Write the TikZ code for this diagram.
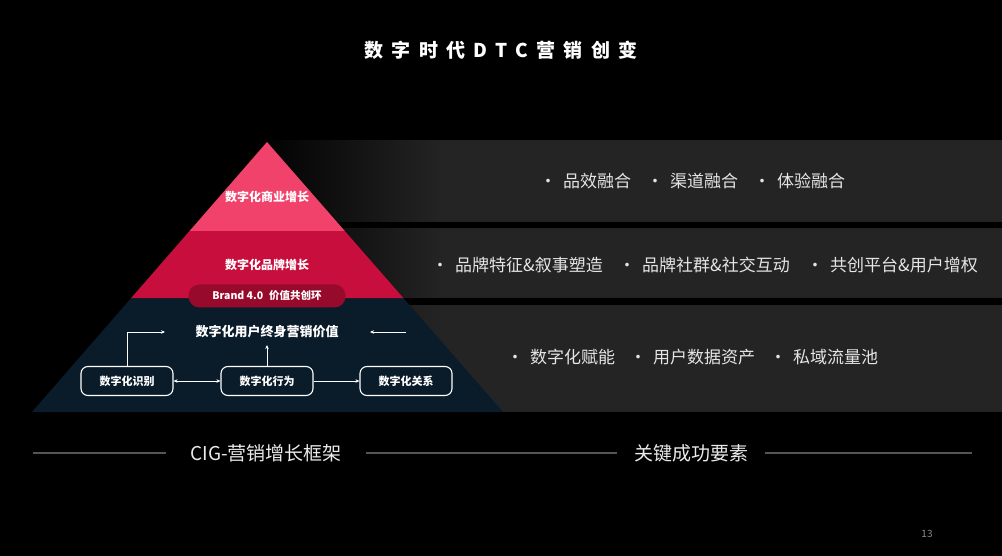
\documentclass[tikz,border=0pt]{standalone}
\usepackage{fontspec}
\setmainfont{Noto Sans CJK SC}
\usetikzlibrary{arrows.meta,calc,fadings}

\definecolor{tierTop}{RGB}{240,66,106}
\definecolor{tierMid}{RGB}{200,14,60}
\definecolor{tierBot}{RGB}{10,27,42}
\definecolor{ovalRed}{RGB}{152,10,44}
\definecolor{bandGray}{RGB}{36,36,36}
\definecolor{ruleGray}{RGB}{85,85,85}

\newcommand{\bul}[1]{·\hspace{6.5pt}#1}

\begin{document}
\begin{tikzpicture}[
    x=1pt, y=-1pt,
    >={Stealth[length=4pt,width=3.5pt]},
    ttl/.style={text=white, inner sep=0pt,
                font=\fontsize{19}{22}\selectfont\bfseries\addfontfeatures{LetterSpace=44}},
    tierlab/.style={text=white, inner sep=1pt, font=\fontsize{12}{14}\selectfont\bfseries},
    vallab/.style={text=white, inner sep=1pt, font=\fontsize{13}{15}\selectfont\bfseries},
    oval/.style={fill=ovalRed, text=white, rounded corners=11pt,
                 minimum width=157pt, minimum height=23pt, inner sep=0pt,
                 font=\fontsize{10.5}{12}\selectfont\bfseries},
    pbox/.style={draw=white, line width=1.1pt, rounded corners=7pt, text=white,
                 minimum width=92pt, minimum height=29pt, inner sep=0pt,
                 font=\fontsize{11}{13}\selectfont\bfseries},
    item/.style={text=white!90!black, inner sep=0pt, anchor=west,
                 font=\fontsize{17}{20}\selectfont},
    foot/.style={text=white!92!black, inner ysep=2pt,
                 font=\fontsize{19}{22}\selectfont},
    rule/.style={draw=ruleGray, line width=1.4pt},
    flow/.style={->, white, line width=0.7pt},
  ]

  \useasboundingbox (0,0) rectangle (1002,556);
  \fill[black] (0,0) rectangle (1002,556);

  %% ---- gray bands behind the key factors ---------------------------
  \fill[bandGray] (250,140) rectangle (1002,222);
  \fill[bandGray] (250,228) rectangle (1002,298);
  \fill[bandGray] (150,305) rectangle (1002,412);
  \fill[black, path fading=east] (249,139) rectangle (440,223);
  \fill[black, path fading=east] (249,227) rectangle (440,299);
  \fill[black, path fading=east] (149,304) rectangle (440,413);

  %% ---- title -----------------------------------------------------------
  \node[ttl] (title) at (501,50) {数字时代DTC营销创变};

  %% ---- pyramid ---------------------------------------------------------
  \coordinate (apex) at (267,142);
  \coordinate (bl)   at ( 32,412);
  \coordinate (br)   at (503,412);
  \coordinate (l1) at ($(apex)!0.3296!(bl)$);
  \coordinate (r1) at ($(apex)!0.3296!(br)$);
  \coordinate (l2) at ($(apex)!0.5778!(bl)$);
  \coordinate (r2) at ($(apex)!0.5778!(br)$);

  \fill[tierBot] (bl) -- (br) -- (r2) -- (l2) -- cycle;
  \fill[tierMid] (l2) -- (r2) -- (r1) -- (l1) -- cycle;
  \fill[tierTop] (apex) -- (r1) -- (l1) -- cycle;

  \node[tierlab] (biz)   at (267,197) {数字化商业增长};
  \node[tierlab] (brand) at (267,265) {数字化品牌增长};
  \node[oval]    (cocr)  at (267,296) {Brand 4.0\hspace{6pt}价值共创环};

  %% ---- user lifetime value loop ----------------------------------------
  \node[vallab] (val) at (267,332) {数字化用户终身营销价值};
  \node[pbox] (idf) at (127,381) {数字化识别};
  \node[pbox] (act) at (267,381) {数字化行为};
  \node[pbox] (rel) at (406,381) {数字化关系};

  \coordinate (inL)  at (165,332);
  \coordinate (inR0) at (406,332);
  \coordinate (inR)  at (370,332);
  \coordinate (actUp) at (267,345);

  \draw[flow] (idf.north) |- (inL);
  \draw[flow] (inR0) -- (inR);
  \draw[flow] (act) -- (actUp);
  \draw[flow,<->] (idf) -- (act);
  \draw[flow] (act) -- (rel);

  %% ---- key success factors ---------------------------------------------
  \node[item] (k11) at (539.5,181) {\bul{品效融合}};
  \node[item] (k12) at (646.5,181) {\bul{渠道融合}};
  \node[item] (k13) at (753.5,181) {\bul{体验融合}};

  \node[item] (k21) at (431.5,265) {\bul{品牌特征\&叙事塑造}};
  \node[item] (k22) at (618.5,265) {\bul{品牌社群\&社交互动}};
  \node[item] (k23) at (806.5,265) {\bul{共创平台\&用户增权}};

  \node[item] (k31) at (506.5,357) {\bul{数字化赋能}};
  \node[item] (k32) at (629.5,357) {\bul{用户数据资产}};
  \node[item] (k33) at (769.5,357) {\bul{私域流量池}};

  %% ---- footer captions -------------------------------------------------
  \node[foot, inner xsep=24pt] (fw)  at (266,453) {CIG-营销增长框架};
  \node[foot, inner xsep=17pt] (ksf) at (691,453) {关键成功要素};
  \coordinate (ruleL) at ( 33,453);
  \coordinate (ruleR) at (972,453);
  \draw[rule] (ruleL) -- (fw);
  \draw[rule] (fw) -- (ksf);
  \draw[rule] (ksf) -- (ruleR);

  \node[text=white!55!black, font=\fontsize{10}{12}\selectfont] (pg) at (927,534) {13};

\end{tikzpicture}
\end{document}
